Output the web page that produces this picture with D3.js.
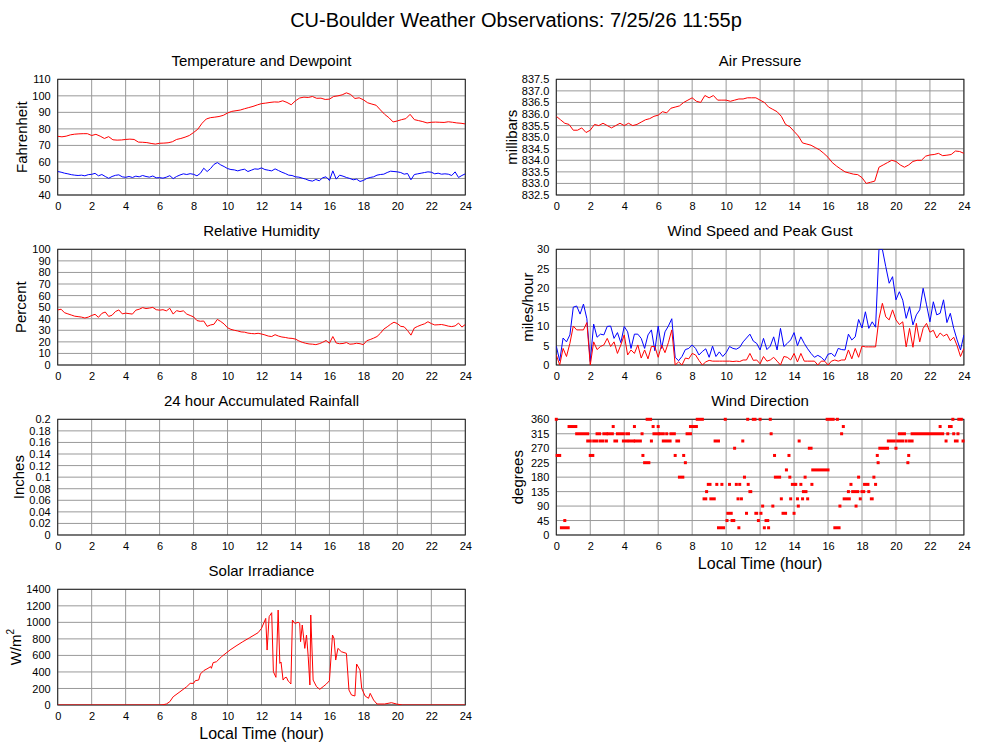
<!DOCTYPE html>
<html>
<head>
<meta charset="utf-8">
<script src="https://d3js.org/d3.v7.min.js"></script>
<style>
body { margin: 0; background: #fff; }
svg { font-family: "Liberation Sans", Arial, sans-serif; }
</style>
</head>
<body>
<script>
// sample times (hours) for the regularly sampled series
var hoursQ = d3.range(0, 97).map(function(i) { return i / 4; });   // every 15 min
var hoursF = d3.range(0, 121).map(function(i) { return i / 5; });  // every 12 min
var hourTicks = [0, 2, 4, 6, 8, 10, 12, 14, 16, 18, 20, 22, 24];

// Fahrenheit, every 15 min
var temperature = [75.5,75.2,75.6,76.4,76.8,77.0,77.1,77.1,76.0,76.7,75.6,74.2,75.3,73.4,73.2,73.3,
  73.6,73.8,73.6,72.0,71.9,71.7,71.2,70.8,71.3,71.4,71.6,72.2,73.6,74.2,75.0,76.0,
  77.8,79.8,83.4,86.0,86.8,87.1,87.5,88.2,89.6,90.6,91.0,91.4,92.2,92.9,93.6,94.5,
  95.3,95.6,96.0,96.3,96.2,97.0,96.0,94.6,97.0,98.7,99.2,99.0,99.6,98.5,98.6,97.8,
  98.0,99.6,100.0,100.6,101.8,100.8,98.4,98.8,97.6,95.8,95.0,94.3,91.5,88.8,86.8,84.2,
  84.8,85.6,86.2,88.8,85.6,85.0,84.4,83.6,84.0,84.1,84.0,83.9,84.3,84.0,83.6,83.4,83.0];

// Fahrenheit, every 12 min
var dewpoint = [54.2,53.8,53.2,52.8,52.3, 52.0,51.8,52.0,51.6,52.3, 52.5,53.1,51.6,52.4,51.2,
  50.1,51.2,51.9,52.2,51.0, 50.7,51.2,50.6,51.4,51.0, 51.8,51.2,50.8,51.5,50.4,
  50.5,50.2,50.8,51.7,49.9, 51.2,52.1,52.8,52.4,52.9, 52.5,51.6,53.1,56.2,54.2,
  56.0,58.5,59.6,58.2,57.2, 56.0,55.4,55.2,54.6,55.2, 55.6,54.2,55.0,55.8,55.6,
  56.4,55.4,55.0,54.6,55.8, 54.8,53.8,53.0,52.0,51.8, 51.0,50.8,50.2,49.6,48.8,
  48.4,49.4,48.6,50.4,51.0, 48.8,54.6,49.6,52.0,51.4, 50.6,50.0,49.2,49.6,48.2,
  48.8,50.0,50.6,51.0,52.0, 52.4,52.6,53.6,54.4,54.2, 54.0,53.6,52.6,53.0,49.2,
  52.4,52.8,53.2,53.6,54.0, 53.8,52.8,53.2,52.6,52.8, 52.6,51.8,54.0,50.6,51.8, 52.8];

// millibars, every 15 min
var pressure = [835.9,835.75,835.6,835.55, 835.3,835.3,835.4,835.2, 835.3,835.55,835.5,835.6,
  835.5,835.4,835.5,835.6, 835.5,835.6,835.5,835.55, 835.65,835.75,835.8,835.9,
  835.95,836.1,836.05,836.25, 836.3,836.35,836.5,836.6, 836.7,836.55,836.5,836.8,
  836.7,836.8,836.6,836.6, 836.6,836.55,836.6,836.65, 836.65,836.7,836.7,836.7,
  836.6,836.5,836.3,836.2, 836.1,835.9,835.55,835.45, 835.25,835.05,834.75,834.7,
  834.65,834.55,834.45,834.3, 834.13,833.9,833.75,833.62, 833.5,833.45,833.4,833.38,
  833.25,833.0,833.05,833.1, 833.7,833.8,833.9,834.0, 833.95,833.8,833.7,833.8,
  833.95,834.0,834.0,834.18, 834.23,834.25,834.3,834.2, 834.22,834.25,834.4,834.38, 834.3];

// percent, every 12 min
var humidity = [47.6,48.2,45.2,44.2,43.2, 42.2,41.8,41.4,40.6,41.4, 42.8,43.8,41.2,44.6,45.8,
  42.0,43.0,46.2,47.6,44.2, 44.8,44.4,44.0,47.4,48.2, 49.6,48.8,49.2,49.8,47.8,
  47.4,47.8,46.8,49.0,44.0, 47.0,46.2,46.8,44.0,42.8, 41.6,38.4,37.8,38.0,33.4,
  34.6,35.2,39.4,37.6,35.4, 32.2,30.8,30.0,29.4,28.6, 28.4,27.6,27.2,27.0,27.4,
  26.8,26.0,25.0,24.6,26.2, 25.0,24.2,23.8,23.2,23.0, 22.4,20.8,19.6,18.8,18.2,
  18.0,17.6,18.4,19.6,21.2, 18.8,24.6,19.0,18.4,18.6, 19.4,18.0,18.2,18.8,18.4,
  17.6,21.0,22.0,23.2,24.6, 27.4,31.0,33.0,35.2,37.0, 35.8,33.4,33.0,29.8,25.8,
  32.0,33.4,34.6,35.6,37.4, 35.8,34.6,34.8,35.0,34.4, 33.6,33.2,33.8,36.2,32.8, 35.0];

// miles/hour, every 12 min
var gust = [4.9,1.1,7.0,6.0,7.8, 15.0,15.3,13.2,15.8,12.0, 0.9,10.6,7.2,8.0,7.8,
  10.0,10.1,6.9,8.4,5.8, 10.0,8.6,4.3,8.0,8.0, 6.9,4.3,7.8,9.1,3.7,
  10.1,4.3,8.6,10.1,12.0, 2.0,1.1,2.2,4.0,4.3, 5.2,4.3,2.6,3.5,4.2,
  2.0,4.9,2.2,3.4,2.2, 3.2,4.8,4.3,4.1,4.6, 6.0,7.0,8.0,6.2,5.6,
  3.9,6.9,4.0,4.9,7.3, 3.9,9.5,4.8,5.6,6.5, 8.4,5.0,7.3,5.6,4.2,
  3.0,2.0,2.5,2.0,1.1, 2.8,3.0,2.2,4.3,4.0, 3.9,8.0,6.5,7.3,11.8,
  9.6,13.8,9.5,11.2,9.8, 30.0,30.0,25.5,21.2,22.9, 16.9,19.0,16.8,12.1,15.1,
  10.4,13.0,14.3,19.9,15.6, 11.2,16.4,13.0,13.4,16.9, 11.0,13.4,9.5,6.5,3.9, 7.8];

var windSpeed = [2.6,0,4.3,2.2,5.6, 10.1,9.1,9.1,9.1,11.0, 0,6.0,4.0,4.8,5.2,
  6.9,4.8,6.0,3.0,5.2, 7.8,2.6,3.9,3.0,5.2, 1.8,3.9,1.6,4.8,4.8,
  2.0,5.2,3.2,5.8,9.1, 0,0.8,0,1.8,1.6, 3.0,2.6,1.2,0,0.8,
  1.2,1.0,1.0,1.0,1.0, 1.0,1.0,0.9,1.0,0.9, 1.3,1.3,3.0,1.2,1.3,
  0.3,2.2,1.0,1.3,2.0, 1.0,0,2.2,2.0,1.3, 3.0,0.8,3.0,1.0,1.0,
  1.0,1.0,0,1.0,1.0, 0,1.0,1.3,1.0,1.3, 1.3,3.9,1.6,4.3,2.0,
  4.9,4.7,4.7,4.7,4.7, 12.0,16.0,12.5,11.7,14.3, 11.7,10.5,11.2,4.7,9.5,
  4.6,10.8,6.0,9.5,10.8, 8.5,9.0,7.0,8.3,7.5, 8.0,6.3,7.2,5.0,2.2, 4.3];

// inches, nothing fell
var rainfall = [];

// wind direction: [from hour, to hour, degrees]
var dirRuns = [
  [0.0,0.0,360],[0.05,0.2,247.5],[0.3,0.7,22.5],[0.5,0.5,45],[0.75,1.15,337.5],[1.2,1.85,315],
  [1.85,2.0,292.5],[2.0,2.15,247.5],[2.2,2.4,292.5],[2.4,2.55,315],[2.6,2.75,292.5],[2.8,2.95,315],
  [2.95,2.95,292.5],[3.05,3.3,315],[3.35,3.35,337.5],[3.45,3.55,292.5],[3.6,3.95,315],[3.95,4.15,292.5],
  [4.15,4.25,315],[4.3,4.55,292.5],[4.6,4.6,337.5],[4.65,4.95,292.5],[5.05,5.05,315],[5.1,5.1,247.5],
  [5.2,5.45,225],[5.35,5.55,360],[5.6,5.6,292.5],[5.7,5.7,337.5],[5.75,6.0,315],[6.0,6.0,337.5],
  [6.1,6.3,315],[6.3,6.7,292.5],[6.5,6.5,315],[6.75,6.95,315],[7.0,7.0,247.5],[7.1,7.2,292.5],
  [7.25,7.45,180],[7.5,7.5,247.5],[7.6,7.6,225],[7.7,7.9,315],[7.9,8.25,337.5],[8.3,8.6,360],
  [8.7,8.8,112.5],[8.85,8.85,135],[8.95,9.05,157.5],[9.1,9.3,112.5],[9.35,9.55,292.5],[9.45,9.45,157.5],
  [9.55,9.85,22.5],[9.75,9.75,157.5],[9.95,9.95,360],[10.05,10.05,45],[10.1,10.3,67.5],[10.2,10.2,157.5],
  [10.35,10.45,45],[10.5,10.5,270],[10.6,10.6,157.5],[10.7,10.7,112.5],[10.75,10.75,22.5],[10.8,10.8,157.5],
  [10.9,10.9,112.5],[10.98,10.98,292.5],[11.08,11.08,180],[11.2,11.2,67.5],[11.27,11.27,360],[11.3,11.3,157.5],
  [11.4,11.45,135],[11.6,11.7,360],[11.75,11.8,67.5],[11.9,11.9,45],[12.0,12.0,360],[12.05,12.05,67.5],
  [12.15,12.15,90],[12.25,12.25,22.5],[12.35,12.45,45],[12.5,12.5,22.5],[12.6,12.6,360],[12.65,12.65,315],
  [12.75,12.75,90],[12.85,12.85,247.5],[12.9,13.15,180],[13.25,13.25,112.5],[13.35,13.5,67.5],[13.55,13.55,202.5],
  [13.7,13.7,247.5],[13.75,13.75,180],[13.8,13.8,112.5],[13.9,14.0,157.5],[14.0,14.0,67.5],[14.1,14.1,157.5],
  [14.2,14.2,112.5],[14.25,14.25,90],[14.3,14.3,292.5],[14.4,14.4,157.5],[14.5,14.5,112.5],[14.55,14.7,135],
  [14.65,14.65,180],[14.8,14.8,112.5],[14.9,15.0,270],[15.05,15.05,157.5],[15.1,16.0,202.5],[15.95,16.3,360],
  [16.4,16.65,22.5],[16.55,16.55,360],[16.7,16.7,90],[16.8,16.8,315],[16.9,16.9,337.5],[16.95,17.25,112.5],
  [17.2,17.2,135],[17.35,17.35,157.5],[17.45,17.75,135],[17.65,17.65,90],[17.8,17.8,180],[17.9,17.9,112.5],
  [18.0,18.1,135],[18.15,18.35,157.5],[18.4,18.4,135],[18.55,18.6,112.5],[18.7,18.7,180],[18.8,18.8,157.5],
  [18.9,18.9,247.5],[18.95,18.95,225],[19.05,19.5,270],[19.55,19.9,292.5],[20.0,20.0,270],[20.1,20.4,292.5],
  [20.2,20.5,315],[20.6,20.6,292.5],[20.7,20.7,225],[20.75,20.75,247.5],[20.8,20.95,292.5],[20.95,22.75,315],
  [22.6,22.6,337.5],[22.95,22.95,292.5],[23.05,23.05,315],[23.15,23.25,337.5],[23.35,23.35,360],[23.4,23.4,315],
  [23.5,23.6,292.5],[23.65,23.65,315],[23.7,23.85,360],[23.95,23.95,292.5]
];

// W/m2
var solarHours = [0,6.0,6.2,6.4,6.6,6.8,7.2,7.6,7.8,8.0,8.1,8.3,8.4,8.6,8.85,9.0,9.05,9.15,9.35,9.65,
  10.15,10.5,10.9,11.3,11.8,12.0,12.25,12.33,12.45,12.6,12.7,12.85,12.98,13.08,13.15,13.27,13.37,13.47,
  13.57,13.67,13.73,13.82,13.96,14.16,14.25,14.3,14.4,14.55,14.65,14.75,14.85,14.9,15.04,15.24,15.43,
  15.63,15.82,16.0,16.18,16.27,16.37,16.5,16.7,17.0,17.15,17.3,17.5,17.6,17.8,17.9,18.1,18.3,18.4,18.6,
  18.8,19.25,19.65,19.95,20.3,24];
var solarIrr = [0,0,3,12,40,100,160,222,262,262,294,302,375,416,444,464,444,512,524,585,
  666,714,766,814,875,927,1048,665,1069,1117,403,335,1149,504,520,302,330,335,
  290,270,254,1028,988,1000,988,766,968,685,847,585,242,1089,302,222,190,
  222,254,294,847,806,544,685,645,625,181,121,109,496,423,202,109,81,141,60,
  12,12,28,12,0,0];

// y tick values
var tempTicks = [40, 50, 60, 70, 80, 90, 100, 110];
var pressTicks = [832.5, 833.0, 833.5, 834.0, 834.5, 835.0, 835.5, 836.0, 836.5, 837.0, 837.5];
var rhTicks = [0, 10, 20, 30, 40, 50, 60, 70, 80, 90, 100];
var windTicks = [0, 5, 10, 15, 20, 25, 30];
var rainTicks = [0, 0.02, 0.04, 0.06, 0.08, 0.1, 0.12, 0.14, 0.16, 0.18, 0.2];
var dirTicks = [0, 45, 90, 135, 180, 225, 270, 315, 360];
var solarTicks = [0, 200, 400, 600, 800, 1000, 1200, 1400];

var width = 1000;
var height = 745;
var plotW = 407.6;
var plotH = 115.7;
var colX = [57.7, 556.3];
var rowY = [79.3, 249.3, 419.3, 589.3];
var font = '"Liberation Sans", Arial, sans-serif';

var svg = d3.select('body')
            .append('svg')
            .attr('width', width)
            .attr('height', height);

svg.append('text')
  .attr('x', 516)
  .attr('y', 27)
  .attr('text-anchor', 'middle')
  .attr('font-size', 20)
  .text('CU-Boulder Weather Observations: 7/25/26 11:55p');

var panelCount = 0;
function panel(o) {
  panelCount++;
  var g = svg.append('g')
    .attr('transform', 'translate(' + o.left + ',' + o.top + ')');
  var x = d3.scaleLinear().domain([0, 24]).range([0, plotW]);
  var y = d3.scaleLinear().domain([o.ticks[0], o.ticks[o.ticks.length - 1]]).range([plotH, 0]);

  g.append('clipPath').attr('id', 'clip' + panelCount)
    .append('rect').attr('width', plotW).attr('height', plotH);

  // grid
  g.append('g').selectAll('line')
    .data(o.ticks)
    .enter()
    .append('line')
    .attr('x1', 0).attr('x2', plotW)
    .attr('y1', function(d) { return y(d); })
    .attr('y2', function(d) { return y(d); })
    .attr('stroke', '#999');
  g.append('g').selectAll('line')
    .data(hourTicks)
    .enter()
    .append('line')
    .attr('y1', 0).attr('y2', plotH)
    .attr('x1', function(d) { return x(d); })
    .attr('x2', function(d) { return x(d); })
    .attr('stroke', '#999');

  g.append('rect')
    .attr('width', plotW).attr('height', plotH)
    .attr('fill', 'none').attr('stroke', '#222');

  var xAxis = d3.axisBottom(x).tickValues(hourTicks).tickSize(0).tickPadding(7);
  var yAxis = d3.axisLeft(y).tickValues(o.ticks).tickSize(0).tickPadding(7).tickFormat(o.format);
  g.append('g')
    .attr('transform', 'translate(0,' + plotH + ')')
    .call(xAxis)
    .attr('font-size', 11).attr('font-family', font)
    .call(function(s) { s.select('.domain').remove(); });
  g.append('g')
    .call(yAxis)
    .attr('font-size', 11).attr('font-family', font)
    .call(function(s) { s.select('.domain').remove(); });

  g.append('text')
    .attr('x', plotW / 2).attr('y', -13.3)
    .attr('text-anchor', 'middle').attr('font-size', 15)
    .text(o.title);

  var yl = g.append('text')
    .attr('transform', 'translate(' + (-o.labelOff) + ',' + (plotH / 2) + ') rotate(-90)')
    .attr('text-anchor', 'middle').attr('dy', '0.35em').attr('font-size', 15)
    .text(o.ylabel);
  if (o.sup) {
    yl.append('tspan').attr('font-size', 10).attr('dy', -7).text(o.sup);
  }

  if (o.xlabel) {
    g.append('text')
      .attr('x', plotW / 2).attr('y', plotH + 34.5)
      .attr('text-anchor', 'middle').attr('font-size', 16)
      .text('Local Time (hour)');
  }

  var plot = g.append('g').attr('clip-path', 'url(#clip' + panelCount + ')');
  return { g: g, plot: plot, x: x, y: y };
}

function addLine(p, hours, values, color) {
  var line = d3.line()
    .x(function(d, i) { return p.x(hours[i]); })
    .y(function(d) { return p.y(d); });
  p.plot.append('path')
    .attr('d', line(values))
    .attr('fill', 'none')
    .attr('stroke', color)
    .attr('stroke-width', 1);
}

var fmtInt = d3.format('d');

var pTemp = panel({ left: colX[0], top: rowY[0], ticks: tempTicks, format: fmtInt,
  title: 'Temperature and Dewpoint', ylabel: 'Fahrenheit', labelOff: 36 });
addLine(pTemp, hoursQ, temperature, '#ff0000');
addLine(pTemp, hoursF, dewpoint, '#0000ff');

var pPress = panel({ left: colX[1], top: rowY[0], ticks: pressTicks, format: d3.format('.1f'),
  title: 'Air Pressure', ylabel: 'millibars', labelOff: 45 });
addLine(pPress, hoursQ, pressure, '#ff0000');

var pRh = panel({ left: colX[0], top: rowY[1], ticks: rhTicks, format: fmtInt,
  title: 'Relative Humidity', ylabel: 'Percent', labelOff: 37 });
addLine(pRh, hoursF, humidity, '#ff0000');

var pWind = panel({ left: colX[1], top: rowY[1], ticks: windTicks, format: fmtInt,
  title: 'Wind Speed and Peak Gust', ylabel: 'miles/hour', labelOff: 29 });
addLine(pWind, hoursF, gust, '#0000ff');
addLine(pWind, hoursF, windSpeed, '#ff0000');

var pRain = panel({ left: colX[0], top: rowY[2], ticks: rainTicks, format: d3.format('~g'),
  title: '24 hour Accumulated Rainfall', ylabel: 'Inches', labelOff: 39 });
if (rainfall.length) addLine(pRain, hoursQ, rainfall, '#ff0000');

var pDir = panel({ left: colX[1], top: rowY[2], ticks: dirTicks, format: fmtInt,
  title: 'Wind Direction', ylabel: 'degrees', labelOff: 39, xlabel: true });
pDir.g.append('g')
  .selectAll('rect')
  .data(dirRuns)
  .enter()
  .append('rect')
  .attr('x', function(d) { return pDir.x(d[0]) - 1.5; })
  .attr('width', function(d) { return pDir.x(d[1]) - pDir.x(d[0]) + 3; })
  .attr('y', function(d) { return pDir.y(d[2]) - 1.5; })
  .attr('height', 3)
  .attr('fill', '#ff0000');

var pSolar = panel({ left: colX[0], top: rowY[3], ticks: solarTicks, format: fmtInt,
  title: 'Solar Irradiance', ylabel: 'W/m', sup: '2', labelOff: 42, xlabel: true });
addLine(pSolar, solarHours, solarIrr, '#ff0000');
</script>
</body>
</html>
